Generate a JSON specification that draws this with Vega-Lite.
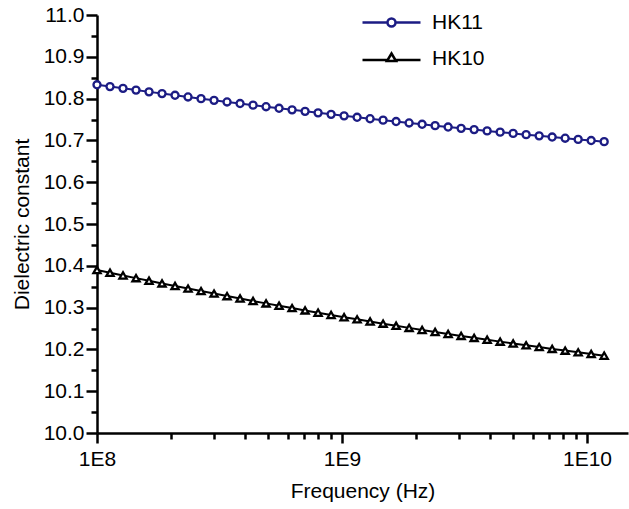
{
  "$schema": "https://vega.github.io/schema/vega-lite/v6.json",
  "width": 531,
  "height": 418,
  "autosize": {"type": "none"},
  "padding": {"left": 97, "top": 15, "right": 1, "bottom": 76},
  "config": {
    "view": {"stroke": null},
    "font": "Liberation Sans",
    "axis": {
      "grid": false,
      "domainColor": "black",
      "domainWidth": 2.5,
      "tickColor": "black",
      "tickWidth": 2.5,
      "labelColor": "black",
      "titleColor": "black",
      "labelFontSize": 21,
      "titleFontSize": 21,
      "titleFontWeight": "normal",
      "labelFont": "Liberation Sans",
      "titleFont": "Liberation Sans"
    }
  },
  "data": {
    "values": [
      {"s": "HK11", "f": 100000000, "k": 10.8330},
      {"s": "HK11", "f": 113000000, "k": 10.8287},
      {"s": "HK11", "f": 127690000, "k": 10.8245},
      {"s": "HK11", "f": 144290000, "k": 10.8203},
      {"s": "HK11", "f": 163050000, "k": 10.8161},
      {"s": "HK11", "f": 184240000, "k": 10.8120},
      {"s": "HK11", "f": 208200000, "k": 10.8079},
      {"s": "HK11", "f": 235260000, "k": 10.8039},
      {"s": "HK11", "f": 265840000, "k": 10.7999},
      {"s": "HK11", "f": 300400000, "k": 10.7959},
      {"s": "HK11", "f": 339460000, "k": 10.7920},
      {"s": "HK11", "f": 383590000, "k": 10.7882},
      {"s": "HK11", "f": 433450000, "k": 10.7843},
      {"s": "HK11", "f": 489800000, "k": 10.7806},
      {"s": "HK11", "f": 553480000, "k": 10.7768},
      {"s": "HK11", "f": 625430000, "k": 10.7731},
      {"s": "HK11", "f": 706730000, "k": 10.7695},
      {"s": "HK11", "f": 798610000, "k": 10.7659},
      {"s": "HK11", "f": 902430000, "k": 10.7623},
      {"s": "HK11", "f": 1019740000, "k": 10.7588},
      {"s": "HK11", "f": 1152310000, "k": 10.7553},
      {"s": "HK11", "f": 1302110000, "k": 10.7518},
      {"s": "HK11", "f": 1471380000, "k": 10.7484},
      {"s": "HK11", "f": 1662660000, "k": 10.7451},
      {"s": "HK11", "f": 1878810000, "k": 10.7417},
      {"s": "HK11", "f": 2123050000, "k": 10.7385},
      {"s": "HK11", "f": 2399050000, "k": 10.7352},
      {"s": "HK11", "f": 2710930000, "k": 10.7320},
      {"s": "HK11", "f": 3063350000, "k": 10.7289},
      {"s": "HK11", "f": 3461580000, "k": 10.7258},
      {"s": "HK11", "f": 3911590000, "k": 10.7227},
      {"s": "HK11", "f": 4420100000, "k": 10.7197},
      {"s": "HK11", "f": 4994710000, "k": 10.7167},
      {"s": "HK11", "f": 5644020000, "k": 10.7138},
      {"s": "HK11", "f": 6377740000, "k": 10.7109},
      {"s": "HK11", "f": 7206850000, "k": 10.7080},
      {"s": "HK11", "f": 8143740000, "k": 10.7052},
      {"s": "HK11", "f": 9202430000, "k": 10.7024},
      {"s": "HK11", "f": 10398740000, "k": 10.6997},
      {"s": "HK11", "f": 11750580000, "k": 10.6970},
      {"s": "HK10", "f": 100000000, "k": 10.3900},
      {"s": "HK10", "f": 113000000, "k": 10.3834},
      {"s": "HK10", "f": 127690000, "k": 10.3770},
      {"s": "HK10", "f": 144290000, "k": 10.3705},
      {"s": "HK10", "f": 163050000, "k": 10.3642},
      {"s": "HK10", "f": 184240000, "k": 10.3579},
      {"s": "HK10", "f": 208200000, "k": 10.3517},
      {"s": "HK10", "f": 235260000, "k": 10.3455},
      {"s": "HK10", "f": 265840000, "k": 10.3395},
      {"s": "HK10", "f": 300400000, "k": 10.3335},
      {"s": "HK10", "f": 339460000, "k": 10.3275},
      {"s": "HK10", "f": 383590000, "k": 10.3217},
      {"s": "HK10", "f": 433450000, "k": 10.3158},
      {"s": "HK10", "f": 489800000, "k": 10.3101},
      {"s": "HK10", "f": 553480000, "k": 10.3044},
      {"s": "HK10", "f": 625430000, "k": 10.2988},
      {"s": "HK10", "f": 706730000, "k": 10.2933},
      {"s": "HK10", "f": 798610000, "k": 10.2879},
      {"s": "HK10", "f": 902430000, "k": 10.2825},
      {"s": "HK10", "f": 1019740000, "k": 10.2771},
      {"s": "HK10", "f": 1152310000, "k": 10.2719},
      {"s": "HK10", "f": 1302110000, "k": 10.2667},
      {"s": "HK10", "f": 1471380000, "k": 10.2616},
      {"s": "HK10", "f": 1662660000, "k": 10.2565},
      {"s": "HK10", "f": 1878810000, "k": 10.2515},
      {"s": "HK10", "f": 2123050000, "k": 10.2466},
      {"s": "HK10", "f": 2399050000, "k": 10.2418},
      {"s": "HK10", "f": 2710930000, "k": 10.2370},
      {"s": "HK10", "f": 3063350000, "k": 10.2323},
      {"s": "HK10", "f": 3461580000, "k": 10.2276},
      {"s": "HK10", "f": 3911590000, "k": 10.2231},
      {"s": "HK10", "f": 4420100000, "k": 10.2186},
      {"s": "HK10", "f": 4994710000, "k": 10.2141},
      {"s": "HK10", "f": 5644020000, "k": 10.2098},
      {"s": "HK10", "f": 6377740000, "k": 10.2055},
      {"s": "HK10", "f": 7206850000, "k": 10.2012},
      {"s": "HK10", "f": 8143740000, "k": 10.1971},
      {"s": "HK10", "f": 9202430000, "k": 10.1930},
      {"s": "HK10", "f": 10398740000, "k": 10.1890},
      {"s": "HK10", "f": 11750580000, "k": 10.1850}
    ]
  },
  "layer": [
    {
      "mark": {"type": "line", "strokeWidth": 2},
      "encoding": {
        "x": {
          "field": "f", "type": "quantitative",
          "scale": {"type": "log", "domain": [100000000, 14700000000], "nice": false},
          "axis": {
            "orient": "bottom",
            "title": "Frequency (Hz)",
            "values": [100000000, 1000000000, 10000000000],
            "labelExpr": "'1E' + round(log(datum.value) / LN10)",
            "tickSize": 10,
            "labelPadding": 5,
            "titlePadding": 11,
            "labelFlush": false,
            "labelOverlap": false
          }
        },
        "y": {
          "field": "k", "type": "quantitative",
          "scale": {"domain": [10, 11], "nice": false, "zero": false},
          "axis": {
            "orient": "left",
            "title": "Dielectric constant",
            "values": [10.0, 10.1, 10.2, 10.3, 10.4, 10.5, 10.6, 10.7, 10.8, 10.9, 11.0],
            "format": ".1f",
            "tickSize": 11,
            "labelPadding": 2,
            "titlePadding": 11,
            "labelFlush": false,
            "labelOverlap": false
          }
        },
        "color": {
          "field": "s", "type": "nominal",
          "scale": {"domain": ["HK11", "HK10"], "range": ["#1c1c84", "#000000"]},
          "legend": {
            "orient": "none",
            "legendX": 284,
            "legendY": -3,
            "title": null,
            "labelFontSize": 21,
            "labelColor": "black",
            "symbolSize": 100,
            "symbolStrokeWidth": 2.5,
            "labelOffset": 30,
            "rowPadding": 14,
            "encode": {
              "symbols": {
                "update": {
                  "shape": {"signal": "datum.value === 'HK11' ? 'M-5.8,0H-0.8M0.8,0H5.8M0.8,0A0.8,0.8 0 1,1 -0.8,0A0.8,0.8 0 1,1 0.8,0' : 'M-5.8,0.3H-0.9M0.9,0.3H5.8M0,-1L0.9,0.5L-0.9,0.5Z'"},
                  "fill": {"value": "white"}
                }
              }
            }
          }
        }
      }
    },
    {
      "transform": [{"filter": "datum.s === 'HK11'"}],
      "mark": {"type": "point", "shape": "circle", "filled": false, "fill": "white", "strokeWidth": 2.3, "size": 50, "opacity": 1},
      "encoding": {
        "x": {
          "field": "f", "type": "quantitative",
          "scale": {"type": "log", "domain": [100000000, 14700000000], "nice": false},
          "axis": {
            "orient": "bottom",
            "title": null,
            "labels": false,
            "domain": false,
            "tickSize": 6,
            "values": [200000000, 300000000, 400000000, 500000000, 600000000, 700000000, 800000000, 900000000, 2000000000, 3000000000, 4000000000, 5000000000, 6000000000, 7000000000, 8000000000, 9000000000]
          }
        },
        "y": {
          "field": "k", "type": "quantitative",
          "scale": {"domain": [10, 11], "nice": false, "zero": false},
          "axis": {
            "orient": "left",
            "title": null,
            "labels": false,
            "domain": false,
            "tickSize": 6,
            "values": [10.05, 10.15, 10.25, 10.35, 10.45, 10.55, 10.65, 10.75, 10.85, 10.95]
          }
        },
        "color": {"field": "s", "type": "nominal", "legend": null}
      }
    },
    {
      "transform": [{"filter": "datum.s === 'HK10'"}],
      "mark": {"type": "point", "shape": "triangle-up", "filled": false, "fill": "white", "strokeWidth": 2.3, "size": 52, "opacity": 1},
      "encoding": {
        "x": {"field": "f", "type": "quantitative", "axis": null},
        "y": {"field": "k", "type": "quantitative", "axis": null},
        "color": {"field": "s", "type": "nominal", "legend": null}
      }
    }
  ],
  "resolve": {"axis": {"x": "independent", "y": "independent"}}
}
